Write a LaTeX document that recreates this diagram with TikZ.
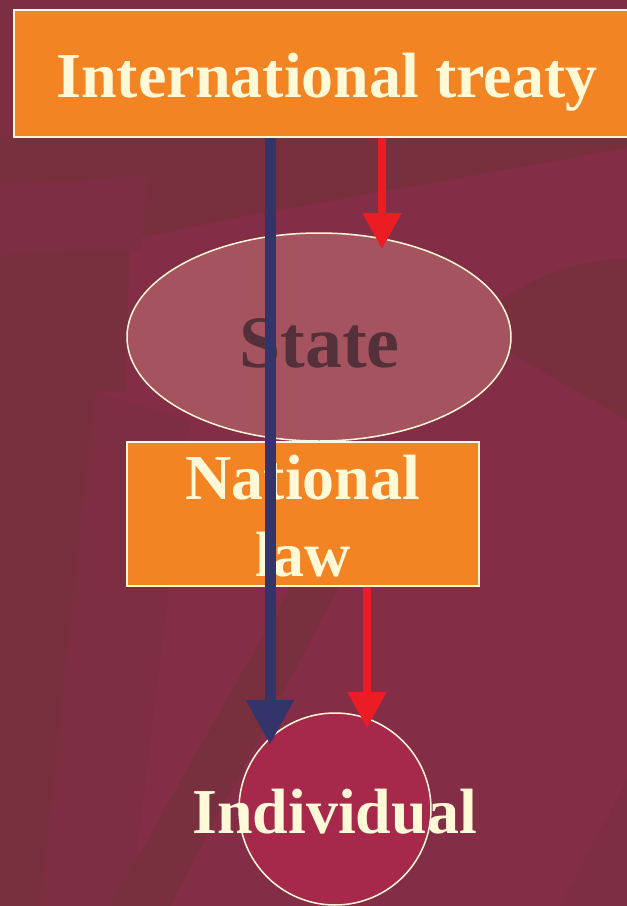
\documentclass[tikz,border=0pt]{standalone}
\usepackage{fontspec}
\setmainfont{Liberation Serif}
\usetikzlibrary{shapes.geometric,arrows.meta}
\definecolor{bgmain}{HTML}{842D46}
\definecolor{bgdark}{HTML}{78303F}
\definecolor{bgmid}{HTML}{7E2E43}
\definecolor{boxorange}{HTML}{F28423}
\definecolor{cream}{HTML}{FFF9D8}
\definecolor{ellfill}{HTML}{A5535F}
\definecolor{statetxt}{HTML}{54303A}
\definecolor{indfill}{HTML}{A6294B}
\definecolor{arrblue}{HTML}{32346A}
\definecolor{arrred}{HTML}{EC1C24}
\tikzset{
  boxnode/.style={draw=cream, line width=1.5pt, fill=boxorange, inner sep=0pt},
  bigtxt/.style={font=\fontsize{64}{77}\selectfont\bfseries, text=cream, inner sep=0pt},
  bluearrow/.style={draw=arrblue, line width=11pt, -{Triangle[length=45pt,width=45pt]}},
  redarrow/.style={draw=arrred, line width=8pt, -{Triangle[length=36pt,width=37pt]}},
}
\begin{document}
\begin{tikzpicture}[x=1pt,y=-1pt]
\useasboundingbox (0,0) rectangle (627,906);
\clip (0,0) rectangle (627,906);
% background
\fill[bgmain] (0,0) rectangle (627,906);
\fill[bgmid] (0,0) rectangle (627,140);
\fill[bgdark] (0,137) -- (627,137) -- (627,148) -- (420,185) -- (250,215) -- (130,240) -- (125,392) -- (95,392) -- (40,906) -- (0,906) -- cycle;
\fill[bgmid] (0,185) -- (150,175) -- (140,250) -- (0,255) -- cycle;
\fill[bgmid] (95,392) -- (190,420) -- (130,906) -- (40,906) -- cycle;
\fill[bgdark] (627,258) .. controls (560,262) and (510,285) .. (470,330) -- (627,322) -- cycle;
\fill[bgdark] (470,330) -- (627,322) -- (627,420) -- cycle;
\fill[bgdark] (300,570) -- (340,585) -- (170,906) -- (110,906) -- cycle;
\fill[bgmid] (560,906) -- (627,780) -- (627,906) -- cycle;
% nodes
\node[boxnode, minimum width=626pt, minimum height=127pt] (treaty) at (327,73.5) {};
\node[bigtxt, anchor=base] (treatytxt) at (327,97) {International treaty};
\node[draw=cream, line width=1.5pt, fill=ellfill, ellipse, minimum width=384pt, minimum height=208pt, inner sep=0pt] (state) at (319,337) {};
\node[font=\fontsize{74}{80}\selectfont\bfseries, text=statetxt, inner sep=0pt, anchor=base] (statetxt) at (319.5,367) {State};
\node[boxnode, minimum width=352pt, minimum height=144pt] (natlaw) at (303,514) {};
\node[bigtxt, anchor=base] (nattxt1) at (303,499) {National};
\node[bigtxt, anchor=base] (nattxt2) at (303,576) {law};
\node[draw=cream, line width=1.5pt, fill=indfill, circle, minimum size=192pt, inner sep=0pt] (ind) at (335,809) {};
% connectors
\coordinate (b2) at (270,745);
\coordinate (r1) at (382,249);
\coordinate (r2) at (367,728);
\draw[redarrow] (treaty.south -| r1) -- (r1);
\draw[redarrow] (natlaw.south -| r2) -- (r2);
\draw[bluearrow] (treaty.south -| b2) -- (b2);
\node[bigtxt, anchor=base] (indtxt) at (334.5,833) {Individual};
\end{tikzpicture}
\end{document}
